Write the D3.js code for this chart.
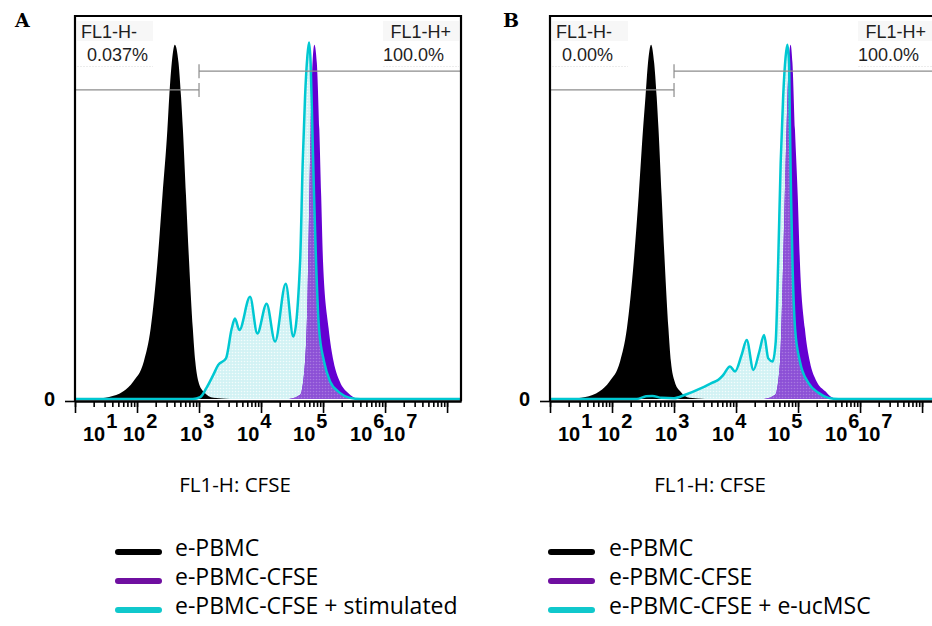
<!DOCTYPE html>
<html>
<head>
<meta charset="utf-8">
<script src="https://cdn.jsdelivr.net/npm/d3@7"></script>
<style>
  body { margin: 0; background: #fff; }
</style>
</head>
<body>
<div id="chart"></div>
<script>
// ---- data (FL1-H as log10 exponent, counts normalised to 0..1000) ----
const panelLetters = ["A", "B"];
const tickExponents = [1, 2, 3, 4, 5, 6, 7];
const gateNames = ["FL1-H-", "FL1-H+"];
const gatePercentA = ["0.037%", "100.0%"];
const gatePercentB = ["0.00%", "100.0%"];
const gateBoundary = 1000;          // FL1-H value splitting the two gates
const gateLevel = [807, 856];       // gate bar height, in counts
const axisTitle = "FL1-H: CFSE";
const legendA = ["e-PBMC", "e-PBMC-CFSE", "e-PBMC-CFSE + stimulated"];
const legendB = ["e-PBMC", "e-PBMC-CFSE", "e-PBMC-CFSE + e-ucMSC"];

// panel A
const pbmcLogA = [1.3, 1.55, 1.78, 1.94, 2.11, 2.22, 2.33, 2.41, 2.49, 2.52, 2.56, 2.61, 2.67, 2.71, 2.74, 2.79, 2.84, 2.90, 2.94, 2.99, 3.07, 3.23, 3.5];
const pbmcCountA = [0, 5, 20, 46, 98, 184, 358, 531, 704, 790, 877, 925, 877, 790, 704, 531, 358, 184, 98, 46, 20, 3, 0];
const cfseLogA = [4.45, 4.63, 4.71, 4.75, 4.77, 4.80, 4.83, 4.86, 4.90, 4.94, 4.97, 5.00, 5.09, 5.17, 5.27, 5.41, 5.55];
const cfseCountA = [0, 11, 98, 270, 444, 704, 877, 925, 877, 704, 531, 358, 184, 98, 46, 15, 0];
const stimLogA = [1.0, 2.9, 3.02, 3.12, 3.23, 3.31, 3.435, 3.527, 3.58, 3.65, 3.823, 3.94, 4.09, 4.226, 4.398, 4.52, 4.63, 4.672, 4.71, 4.747, 4.774, 4.80, 4.828, 4.855, 4.887, 4.935, 5.016, 5.113, 5.27, 5.435, 5.6, 7.22];
const stimCountA = [0, 0, 5, 29, 63, 89, 106, 184, 210, 180, 267, 171, 249, 150, 301, 163, 358, 617, 790, 894, 931, 877, 704, 531, 358, 184, 98, 46, 16, 3, 0, 0];

// panel B
const pbmcLogB = [1.3, 1.57, 1.80, 1.96, 2.13, 2.24, 2.35, 2.43, 2.50, 2.54, 2.58, 2.63, 2.68, 2.72, 2.75, 2.80, 2.85, 2.91, 2.95, 3.01, 3.10, 3.25, 3.5];
const pbmcCountB = [0, 5, 20, 46, 98, 184, 358, 531, 704, 790, 877, 925, 877, 790, 704, 531, 358, 184, 98, 46, 20, 3, 0];
const cfseLogB = [4.45, 4.63, 4.71, 4.76, 4.80, 4.83, 4.855, 4.88, 4.91, 4.95, 4.995, 5.03, 5.11, 5.19, 5.30, 5.44, 5.52, 5.62];
const cfseCountB = [0, 11, 98, 358, 617, 790, 894, 925, 877, 704, 531, 358, 184, 98, 46, 20, 7, 0];
const mscLogB = [1.0, 2.4, 2.55, 2.65, 2.8, 3.0, 3.18, 3.447, 3.61, 3.715, 3.795, 3.903, 3.984, 4.09, 4.172, 4.28, 4.376, 4.452, 4.52, 4.59, 4.64, 4.68, 4.72, 4.76, 4.80, 4.828, 4.855, 4.87, 4.887, 4.91, 4.952, 5.03, 5.167, 5.33, 5.49, 5.65, 7.22];
const mscCountB = [0, 0, 7, 8, 3, 2, 11, 29, 42, 50, 63, 85, 72, 115, 154, 76, 124, 167, 106, 98, 150, 358, 617, 790, 894, 925, 877, 704, 531, 358, 184, 98, 42, 16, 3, 0, 0];

const width = 932;
const height = 626;
const plot = { left: 75, right: 461, top: 16, bottom: 399, axis: 401 };
const panelShift = [0, 475];

const svg = d3.select("#chart")
  .append("svg")
  .attr("width", width)
  .attr("height", height);

const defs = svg.append("defs");

// dotted fills like the cytometer export
function dots(id, bg, dot) {
  const p = defs.append("pattern")
    .attr("id", id)
    .attr("patternUnits", "userSpaceOnUse")
    .attr("width", 3).attr("height", 3);
  p.append("rect").attr("width", 3).attr("height", 3).attr("fill", bg);
  p.append("circle").attr("cx", 1.5).attr("cy", 1.5).attr("r", 0.8).attr("fill", dot);
}
dots("cyanDots", "#d2f2f4", "#f3fcfc");
dots("overlapDots", "#8c50d6", "#a878e0");

// Scales
const x = d3.scaleLog()
  .domain([10, 16777215])
  .range([plot.left, plot.right]);

const y = d3.scaleLinear()
  .domain([0, 1000])
  .range([plot.bottom, plot.top]);

const toPoints = (logs, counts) => logs.map((e, i) => ({ v: Math.pow(10, e), c: counts[i] }));

const area = d3.area()
  .x(d => x(d.v))
  .y0(y(0))
  .y1(d => y(d.c))
  .curve(d3.curveMonotoneX);
const line = area.lineY1();

const tickLabelNudge = [8, -14, -19, -24, -30, -35, -64];

const panels = [
  { pbmc: toPoints(pbmcLogA, pbmcCountA), cfse: toPoints(cfseLogA, cfseCountA), third: toPoints(stimLogA, stimCountA), pct: gatePercentA },
  { pbmc: toPoints(pbmcLogB, pbmcCountB), cfse: toPoints(cfseLogB, cfseCountB), third: toPoints(mscLogB, mscCountB), pct: gatePercentB }
];

panels.forEach((p, i) => {
  const g = svg.append("g").attr("transform", `translate(${panelShift[i]},0)`);

  defs.append("clipPath").attr("id", "thirdClip" + i)
    .append("path").attr("d", area(p.third));

  // faint gate label backgrounds
  [[77, 153], [383, 459]].forEach(([a, b]) => {
    g.append("rect").attr("x", a).attr("y", 21).attr("width", b - a).attr("height", 20).attr("fill", "#f7f7f7");
    g.append("line").attr("x1", a).attr("x2", b).attr("y1", 66.5).attr("y2", 66.5)
      .attr("stroke", "#ececec").attr("stroke-dasharray", "2,1");
  });

  // histograms
  g.append("path").attr("d", area(p.third)).attr("fill", "url(#cyanDots)");
  g.append("path").attr("d", area(p.cfse)).attr("fill", "#6400d2");
  g.append("path").attr("d", area(p.cfse)).attr("fill", "url(#overlapDots)")
    .attr("clip-path", `url(#thirdClip${i})`);
  g.append("path").attr("d", area(p.pbmc)).attr("fill", "#000");
  g.append("path").attr("d", line(p.third))
    .attr("fill", "none").attr("stroke", "#00c8d2").attr("stroke-width", 2.5)
    .attr("stroke-linejoin", "round");

  // gates
  const gx = x(gateBoundary);
  const gates = [[plot.left, gx, y(gateLevel[0])], [gx, plot.right, y(gateLevel[1])]];
  gates.forEach(([a, b, gy]) => {
    g.append("line").attr("x1", a).attr("x2", b).attr("y1", gy).attr("y2", gy)
      .attr("stroke", "#8c8c8c").attr("stroke-width", 1.2);
    g.append("line").attr("x1", gx).attr("x2", gx).attr("y1", gy - 7).attr("y2", gy + 7)
      .attr("stroke", "#8c8c8c").attr("stroke-width", 1.2);
  });

  const gateText = g.append("g")
    .attr("font-family", "'Liberation Sans', Arial, sans-serif")
    .attr("font-size", "18px")
    .attr("fill", "#1e1e1e");
  gateText.append("text").attr("x", 81).attr("y", 38).text(gateNames[0]);
  gateText.append("text").attr("x", 87).attr("y", 61).text(p.pct[0]);
  gateText.append("text").attr("x", 451).attr("y", 38).attr("text-anchor", "end").text(gateNames[1]);
  gateText.append("text").attr("x", 444).attr("y", 61).attr("text-anchor", "end").text(p.pct[1]);

  // x axis: minor then major ticks
  const minor = g.append("g")
    .attr("transform", `translate(0,${plot.axis})`)
    .call(d3.axisBottom(x).tickValues(x.ticks()).tickFormat("").tickSize(6).tickSizeOuter(0));
  const major = g.append("g")
    .attr("transform", `translate(0,${plot.axis})`)
    .call(d3.axisBottom(x).tickValues(tickExponents.map(k => Math.pow(10, k))).tickFormat("").tickSize(12).tickSizeOuter(0));
  [minor, major].forEach(a => {
    a.selectAll(".tick line").attr("stroke", "#000").attr("stroke-width", 1.6);
    a.select(".domain").attr("stroke", "#000").attr("stroke-width", 2.2);
  });

  // y axis: only the zero tick
  const yAxis = g.append("g")
    .attr("transform", `translate(${plot.left},${plot.axis - plot.bottom})`)
    .call(d3.axisLeft(y).tickValues([0]).tickSize(10).tickPadding(10).tickSizeOuter(0));
  yAxis.select(".domain").remove();
  yAxis.selectAll(".tick line").attr("stroke", "#000").attr("stroke-width", 1.6);
  yAxis.selectAll(".tick text")
    .attr("font-family", "'Liberation Sans', Arial, sans-serif")
    .attr("font-weight", "bold").attr("font-size", "20px").attr("fill", "#000")
    .attr("dy", "0.2em");

  // decade labels 10^k
  const labels = g.append("g")
    .attr("font-family", "'Liberation Sans', Arial, sans-serif")
    .attr("font-weight", "bold")
    .attr("font-size", "20px");
  tickExponents.forEach((k, j) => {
    const t = labels.append("text")
      .attr("x", x(Math.pow(10, k)) + tickLabelNudge[j])
      .attr("y", 441);
    t.append("tspan").text("10");
    t.append("tspan").attr("dx", 1).attr("dy", -13).text(k);
  });

  // plot frame
  g.append("path")
    .attr("d", `M${plot.left},${plot.axis}V${plot.top}H${plot.right}V${plot.axis}`)
    .attr("fill", "none").attr("stroke", "#000").attr("stroke-width", 2.2);

  // axis title
  g.append("text")
    .attr("x", 235).attr("y", 492)
    .attr("text-anchor", "middle")
    .attr("font-family", "'Open Sans', sans-serif")
    .attr("font-size", "20.5px")
    .text(axisTitle);

  // panel letter
  svg.append("text")
    .attr("x", 15 + panelShift[i] + (i ? 13 : 0)).attr("y", 27)
    .attr("font-family", "'DejaVu Serif', serif")
    .attr("font-weight", "bold").attr("font-size", "19px")
    .text(panelLetters[i]);
});

// legends
const legendColors = ["#000000", "#6f0fa0", "#10c8cc"];
[[legendA, 115, 175], [legendB, 548, 609]].forEach(([names, lx, tx]) => {
  const lg = svg.append("g");
  names.forEach((name, j) => {
    const by = 556 + j * 29;
    lg.append("line")
      .attr("x1", lx + 3).attr("x2", lx + 44)
      .attr("y1", by - 4).attr("y2", by - 4)
      .attr("stroke", legendColors[j]).attr("stroke-width", 6)
      .attr("stroke-linecap", "round");
    lg.append("text")
      .attr("x", tx).attr("y", by)
      .attr("font-family", "'Open Sans', sans-serif")
      .attr("font-size", "23px")
      .text(name);
  });
});
</script>
</body>
</html>
